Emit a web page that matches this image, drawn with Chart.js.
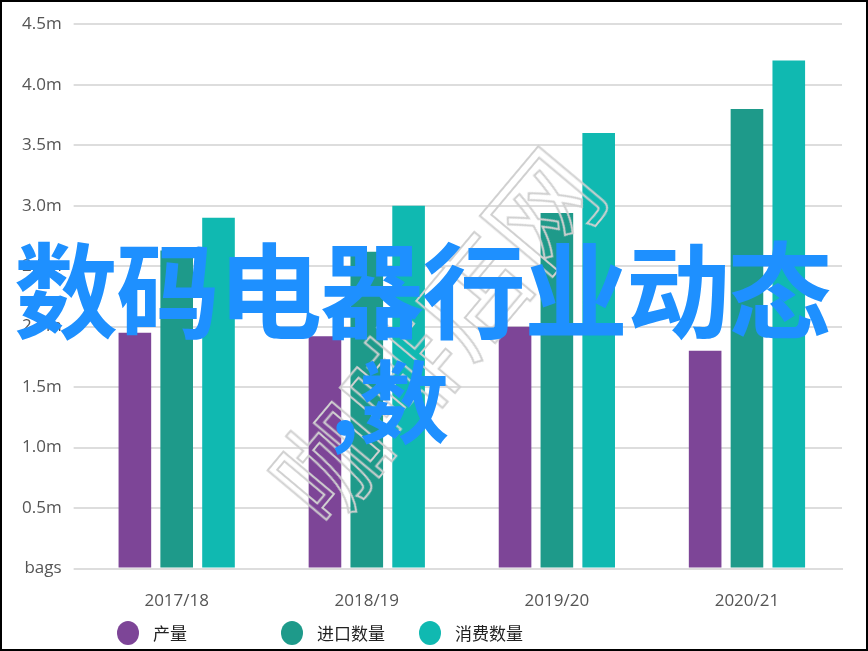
<!DOCTYPE html>
<html><head><meta charset="utf-8">
<script src="https://cdn.jsdelivr.net/npm/chart.js@4"></script>
<style>
html,body{margin:0;padding:0;background:#fff;}
#wrap{position:relative;width:864px;height:647px;border:2px solid #000;overflow:hidden;}
.ov{position:absolute;font-family:"Noto Sans CJK SC";font-weight:700;color:#1e90ff;white-space:nowrap;line-height:1;}
#wm{position:absolute;left:210px;top:275px;font-family:"Noto Sans CJK SC";font-size:110px;color:transparent;-webkit-text-stroke:2px #d0d0d0;transform:rotate(-50deg);white-space:nowrap;line-height:1;}
.lg{position:absolute;top:619px;font-family:"Noto Sans CJK SC";font-size:17px;color:#222;line-height:24px;}
.lg i{display:inline-block;width:22px;height:24px;border-radius:50%;vertical-align:top;margin-right:14px;}
</style></head><body>
<div id="wrap"><canvas id="c" width="864" height="647"></canvas>
<div id="wm">咖啡店网</div>
<div class="ov" style="left:12px;top:232px;font-size:104px;letter-spacing:-2px;">数码电器行业动态</div>
<div class="ov" style="left:328px;top:350px;font-size:90px;">,数</div>
<div class="lg" id="l0" style="left:115px"></div>
<div class="lg" id="l1" style="left:279px"></div>
<div class="lg" id="l2" style="left:417px"></div>
</div>
<script>
const categories=["2017/18","2018/19","2019/20","2020/21"];
const seriesNames=["产量","进口数量","消费数量"];
const production=[1.95,1.92,2.0,1.8];
const imports=[2.63,2.62,2.94,3.8];
const consumption=[2.9,3.0,3.6,4.2];
const yTicks=["bags","0.5m","1.0m","1.5m","2.0m","2.5m","3.0m","3.5m","4.0m","4.5m"];
const colors=['#7d4597','#1e9a8a','#10b9b1'];
const tickFont={family:"Open Sans",size:17};
seriesNames.forEach((n,i)=>{document.getElementById('l'+i).innerHTML='<i style="background:'+colors[i]+'"></i>'+n;});
new Chart(document.getElementById('c'),{type:'bar',
data:{labels:categories,datasets:[
{label:seriesNames[0],data:production,backgroundColor:colors[0]},
{label:seriesNames[1],data:imports,backgroundColor:colors[1]},
{label:seriesNames[2],data:consumption,backgroundColor:colors[2]}]},
options:{responsive:false,animation:false,
layout:{padding:{left:8,right:24,top:10,bottom:24}},
datasets:{bar:{barPercentage:0.78,categoryPercentage:0.66}},
plugins:{legend:{display:false},tooltip:{enabled:false}},
scales:{x:{grid:{display:false},border:{color:'#ddd',width:2},ticks:{color:'#555',font:tickFont,padding:14}},
y:{min:0,max:4.5,grid:{color:'#ddd',lineWidth:2},border:{display:false},ticks:{stepSize:0.5,color:'#555',font:tickFont,padding:12,callback:(v,i)=>yTicks[i]}}}}});
</script></body></html>
